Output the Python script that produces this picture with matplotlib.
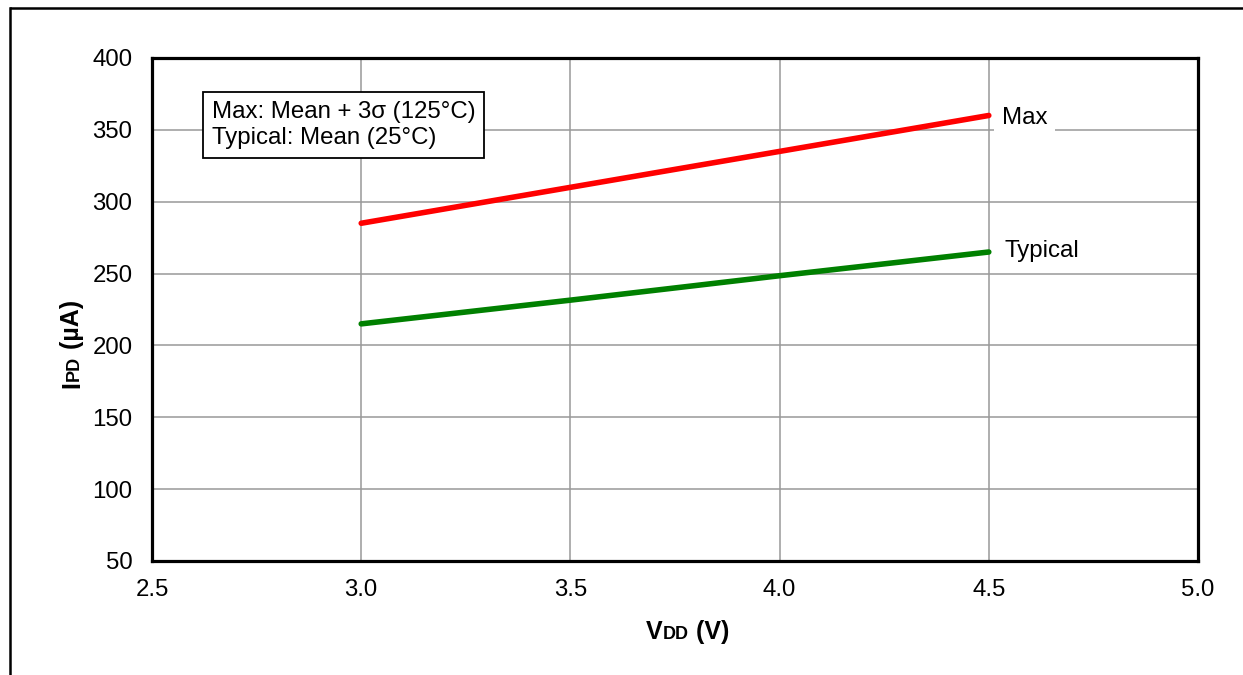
import numpy as np
import matplotlib
matplotlib.use('Agg')
import matplotlib.pyplot as plt
from matplotlib.lines import Line2D

plt.rcParams['font.family'] = ['Liberation Sans', 'DejaVu Sans']

### DATA ###
vdd = [3.0, 3.5, 4.0, 4.5]
ipd_max = [285, 310, 335, 360]
ipd_typ = [215, 231.5, 248.5, 265]
x_ticks = [2.5, 3.0, 3.5, 4.0, 4.5, 5.0]
y_ticks = [50, 100, 150, 200, 250, 300, 350, 400]
note = 'Max: Mean + 3σ (125°C)\nTypical: Mean (25°C)'
### END DATA ###

FS = 17.3
LFS = 18

fig = plt.figure(figsize=(12.43, 6.75), dpi=100)
ax = fig.add_axes([0.1223, 0.1689, 0.9638 - 0.1223, 0.9141 - 0.1689])

ax.plot(vdd, ipd_max, color='#ff0000', lw=4, solid_capstyle='round', zorder=3)
ax.plot(vdd, ipd_typ, color='#008000', lw=4, solid_capstyle='round', zorder=3)

ax.set_xlim(2.5, 5.0)
ax.set_ylim(50, 400)
ax.set_xticks(x_ticks)
ax.set_xticklabels(['%.1f' % v for v in x_ticks])
ax.set_yticks(y_ticks)
ax.tick_params(length=0, labelsize=FS)
ax.tick_params(axis='y', pad=14)
ax.tick_params(axis='x', pad=13)
ax.grid(True, color='#999999', lw=1.1)
ax.set_axisbelow(True)
for s in ax.spines.values():
    s.set_linewidth(2.3)
    s.set_zorder(5)

# series labels at the line ends
ax.annotate('Max', xy=(vdd[-1], ipd_max[-1]), xytext=(9.5, -2), textcoords='offset points',
            fontsize=FS, va='center', ha='left',
            bbox=dict(boxstyle='square,pad=0.33', fc='white', ec='none'))
ax.annotate('Typical', xy=(vdd[-1], ipd_typ[-1]), xytext=(11, 0.5), textcoords='offset points',
            fontsize=FS, va='center', ha='left',
            bbox=dict(boxstyle='square,pad=0.2', fc='white', ec='none'))

ax.text(0.057, 0.915, note, transform=ax.transAxes, fontsize=FS, va='top', ha='left',
        linespacing=1.27, zorder=6,
        bbox=dict(boxstyle='square,pad=0.38', fc='white', ec='black', lw=1.3))

# x label: V + small DD + (V)
t1 = fig.text(646 / 1243, 1 - 644 / 675, 'V', fontsize=LFS, fontweight='bold', ha='left', va='bottom')
t2 = ax.annotate('DD', xy=(1, 0), xycoords=t1, fontsize=LFS * 0.72, fontweight='bold',
                 ha='left', va='bottom', xytext=(0, 0.6), textcoords='offset points')
t3 = ax.annotate(' (V)', xy=(1, 0), xycoords=t2, fontsize=LFS, fontweight='bold',
                 ha='left', va='bottom', xytext=(0, -0.6), textcoords='offset points')

# y label: I + small PD + (µA)
u1 = fig.text(84 / 1243, 1 - 388 / 675, 'I', fontsize=LFS, fontweight='bold', rotation=90,
              ha='right', va='bottom')
u2 = ax.annotate('PD', xy=(1, 1), xycoords=u1, fontsize=LFS * 0.72, fontweight='bold', rotation=90,
                 ha='right', va='bottom', xytext=(-0.6, 0), textcoords='offset points')
u3 = ax.annotate(' (µA)', xy=(1, 1), xycoords=u2, fontsize=LFS, fontweight='bold', rotation=90,
                 ha='right', va='bottom', xytext=(0.6, 0), textcoords='offset points')

# outer frame of the page
fig.add_artist(Line2D([11 / 1243, 1.0], [1 - 8 / 675, 1 - 8 / 675], transform=fig.transFigure,
                      color='black', lw=1.8))
fig.add_artist(Line2D([10 / 1243, 10 / 1243], [1 - 8 / 675, 0.0], transform=fig.transFigure,
                      color='black', lw=1.8))

fig.savefig('out.png', dpi=100)
